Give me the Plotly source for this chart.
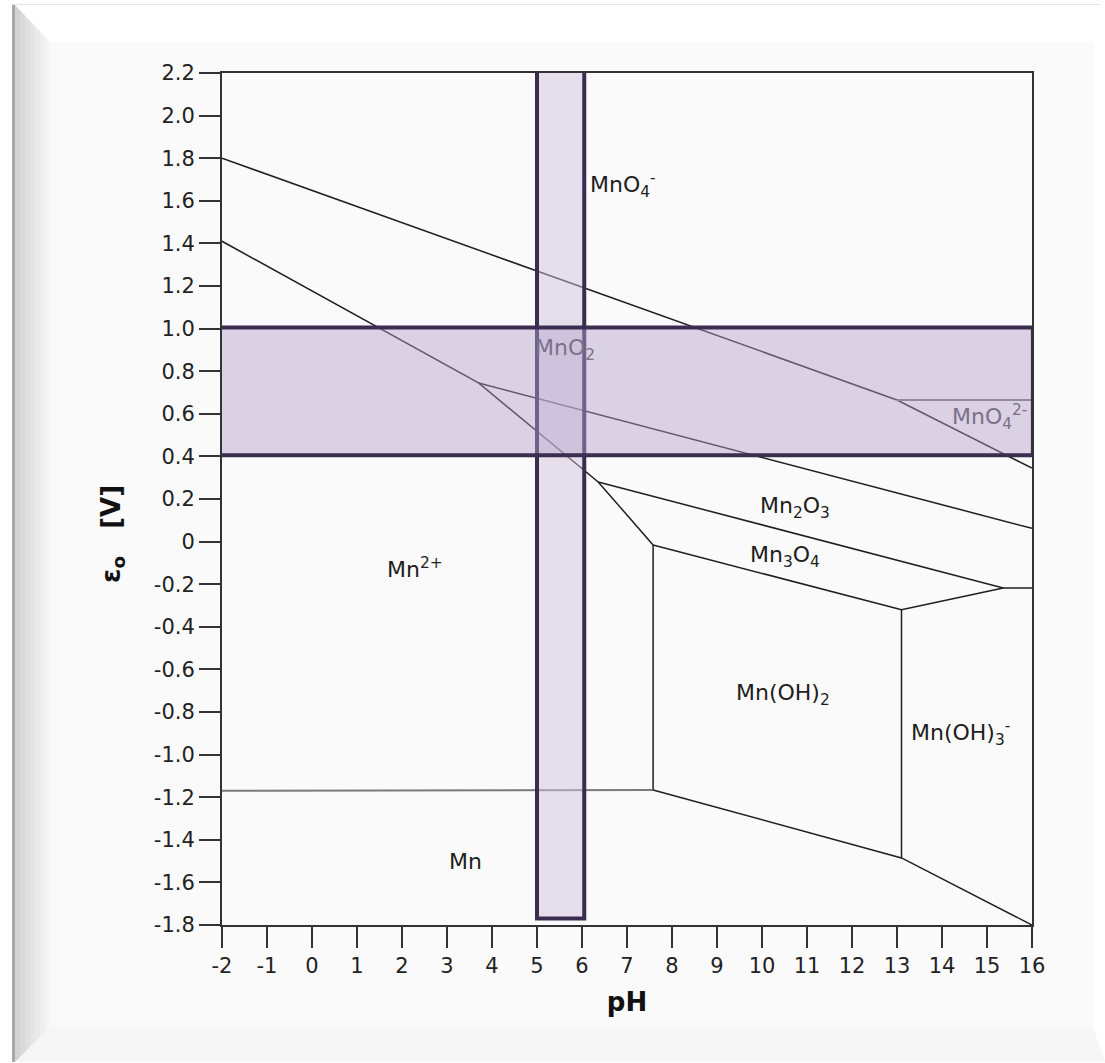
import plotly.graph_objects as go

# ---------------- data (pH, potential in V) ----------------
ph_mno4_mno2 = [-2, 13.0]
e_mno4_mno2 = [1.80, 0.665]

ph_mno4_mno42 = [13.0, 16]
e_mno4_mno42 = [0.665, 0.665]

ph_mno42_mno2 = [13.0, 16]
e_mno42_mno2 = [0.665, 0.345]

ph_mn2_upper = [-2, 3.7, 6.36, 7.58]
e_mn2_upper = [1.41, 0.745, 0.28, -0.016]

ph_mno2_mn2o3 = [3.7, 16]
e_mno2_mn2o3 = [0.745, 0.062]

ph_mn2o3_mn3o4 = [6.36, 15.36, 16]
e_mn2o3_mn3o4 = [0.28, -0.218, -0.218]

ph_mn3o4_lower = [7.58, 13.1, 15.36]
e_mn3o4_lower = [-0.016, -0.32, -0.218]

ph_mn2_mnoh2 = [7.58, 7.58]
e_mn2_mnoh2 = [-0.016, -1.166]

ph_mnoh2_mnoh3 = [13.1, 13.1]
e_mnoh2_mnoh3 = [-0.32, -1.485]

ph_mn_mn2 = [-2, 7.58]
e_mn_mn2 = [-1.17, -1.166]

ph_mn_hydrox = [7.58, 13.1, 16]
e_mn_hydrox = [-1.166, -1.485, -1.80]

# species labels
label_text = ["MnO<sub>4</sub><sup>-</sup>", "MnO<sub>2</sub>", "MnO<sub>4</sub><sup>2-</sup>",
              "Mn<sub>2</sub>O<sub>3</sub>", "Mn<sub>3</sub>O<sub>4</sub>", "Mn<sup>2+</sup>",
              "Mn(OH)<sub>2</sub>", "Mn(OH)<sub>3</sub><sup>-</sup>", "Mn"]
label_ph = [6.9, 5.62, 15.05, 10.73, 10.51, 2.29, 10.47, 14.4, 3.4]
label_e = [1.674, 0.90, 0.585, 0.162, -0.072, -0.124, -0.72, -0.90, -1.504]
label_dim = [False, True, True, False, False, False, False, False, False]

# highlighted windows
window_ph = [5.0, 6.05]
window_e = [-1.77, 2.21]
band_ph = [-2.1, 16.02]
band_e = [0.405, 1.005]

# ticks
x_ticks = list(range(-2, 17))
y_tickvals = [2.2, 2.0, 1.8, 1.6, 1.4, 1.2, 1.0, 0.8, 0.6, 0.4, 0.2, 0.0,
              -0.2, -0.4, -0.6, -0.8, -1.0, -1.2, -1.4, -1.6, -1.8]
y_ticktext = ["2.2", "2.0", "1.8", "1.6", "1.4", "1.2", "1.0", "0.8", "0.6", "0.4", "0.2", "0",
              "-0.2", "-0.4", "-0.6", "-0.8", "-1.0", "-1.2", "-1.4", "-1.6", "-1.8"]

# ---------------- figure ----------------
W, H = 1105, 1063
ML, MR, MT, MB = 222, 73, 73, 138
PW, PH = W - ML - MR, H - MT - MB

def px(xp):
    return (xp - ML) / PW

def py(yp):
    return (H - MB - yp) / PH

fig = go.Figure()

black = "#1e1e1e"
gray = "#7a7a7a"

def seg(x, y, color=black, width=1.5):
    fig.add_trace(go.Scatter(x=x, y=y, mode="lines", line=dict(color=color, width=width),
                             hoverinfo="skip", showlegend=False))

seg(ph_mno4_mno2, e_mno4_mno2)
seg(ph_mno42_mno2, e_mno42_mno2)
seg(ph_mno4_mno42, e_mno4_mno42, gray, 2)
seg(ph_mn2_upper, e_mn2_upper)
seg(ph_mno2_mn2o3, e_mno2_mn2o3)
seg(ph_mn2o3_mn3o4, e_mn2o3_mn3o4)
seg(ph_mn3o4_lower, e_mn3o4_lower)
seg(ph_mn2_mnoh2, e_mn2_mnoh2)
seg(ph_mnoh2_mnoh3, e_mnoh2_mnoh3)
seg(ph_mn_mn2, e_mn_mn2, gray, 2)
seg(ph_mn_hydrox, e_mn_hydrox)

shapes = []
# decorative picture frame
shapes.append(dict(type="line", xref="paper", yref="paper", x0=px(12), x1=px(1100), y0=py(5), y1=py(5),
                   line=dict(color="#e6e6e6", width=2), layer="below"))
strip_cols = ["#a8a8a8", "#d2d2d2", "#d9d9d9", "#dfdfdf", "#e5e5e5", "#eaeaea", "#eeeeee", "#f2f2f2", "#f5f5f5"]
xs = [12, 15, 20, 25, 30, 35, 40, 44, 47, 50]
for i, c in enumerate(strip_cols):
    shapes.append(dict(type="rect", xref="paper", yref="paper", x0=px(xs[i]), x1=px(xs[i + 1]),
                       y0=py(1062), y1=py(5), fillcolor=c, line=dict(width=0), layer="below"))
shapes.append(dict(type="path", xref="paper", yref="paper",
                   path=f"M {px(15)} {py(5)} L {px(1100)} {py(5)} L {px(1093)} {py(42)} L {px(50)} {py(42)} Z",
                   fillcolor="#ffffff", line=dict(width=0), layer="below"))
shapes.append(dict(type="path", xref="paper", yref="paper",
                   path=f"M {px(15)} {py(1062)} L {px(50)} {py(1027)} L {px(1093)} {py(1027)} L {px(1105)} {py(1062)} Z",
                   fillcolor="#f6f6f6", line=dict(width=0), layer="below"))
shapes.append(dict(type="rect", xref="paper", yref="paper", x0=px(50), x1=px(1093), y0=py(1027), y1=py(42),
                   fillcolor="#fafafa", line=dict(width=0), layer="below"))

# highlighted windows
shapes.append(dict(type="rect", xref="x", yref="y", x0=window_ph[0], x1=window_ph[1],
                   y0=window_e[0], y1=window_e[1], fillcolor="rgba(206,196,220,0.5)",
                   line=dict(color="#3b2d50", width=4), layer="above"))
shapes.append(dict(type="rect", xref="x", yref="y", x0=band_ph[0], x1=band_ph[1],
                   y0=band_e[0], y1=band_e[1], fillcolor="rgba(182,160,204,0.45)",
                   line=dict(color="#3b2d50", width=4), layer="above"))

annotations = []
for t, x, y, d in zip(label_text, label_ph, label_e, label_dim):
    annotations.append(dict(x=x, y=y, xref="x", yref="y", text=t, showarrow=False,
                            font=dict(family="DejaVu Sans", size=22, color="#7a7088" if d else "#1e1e1e")))

# y axis title (placed as rotated text, slightly below the plot centre as in the reference)
annotations.append(dict(x=px(112), y=py(534), xref="paper", yref="paper", textangle=-90,
                        xanchor="center", yanchor="middle",
                        text="<b>ε<sub>o</sub>\u00a0\u00a0\u00a0[V]</b>", showarrow=False,
                        font=dict(family="DejaVu Sans", size=26, color="#111111")))

axis_common = dict(showgrid=False, zeroline=False, showline=True, linecolor="#333333", linewidth=2,
                   mirror=True, ticks="outside", ticklen=21, tickwidth=2, tickcolor="#333333",
                   tickfont=dict(family="DejaVu Sans", size=21, color="#222222"))

fig.update_layout(
    width=W, height=H, autosize=False,
    margin=dict(l=ML, r=MR, t=MT, b=MB, pad=0),
    paper_bgcolor="#ffffff", plot_bgcolor="rgba(0,0,0,0)",
    shapes=shapes, annotations=annotations, showlegend=False,
    xaxis=dict(range=[-2, 16], tickmode="array", tickvals=x_ticks,
               ticktext=[str(v) for v in x_ticks],
               title=dict(text="<b>pH</b>", font=dict(family="DejaVu Sans", size=26, color="#111111"),
                          standoff=16),
               **axis_common),
    yaxis=dict(range=[-1.8, 2.2], tickmode="array", tickvals=y_tickvals, ticktext=y_ticktext,
               **axis_common),
)

fig.write_html("out.html")
